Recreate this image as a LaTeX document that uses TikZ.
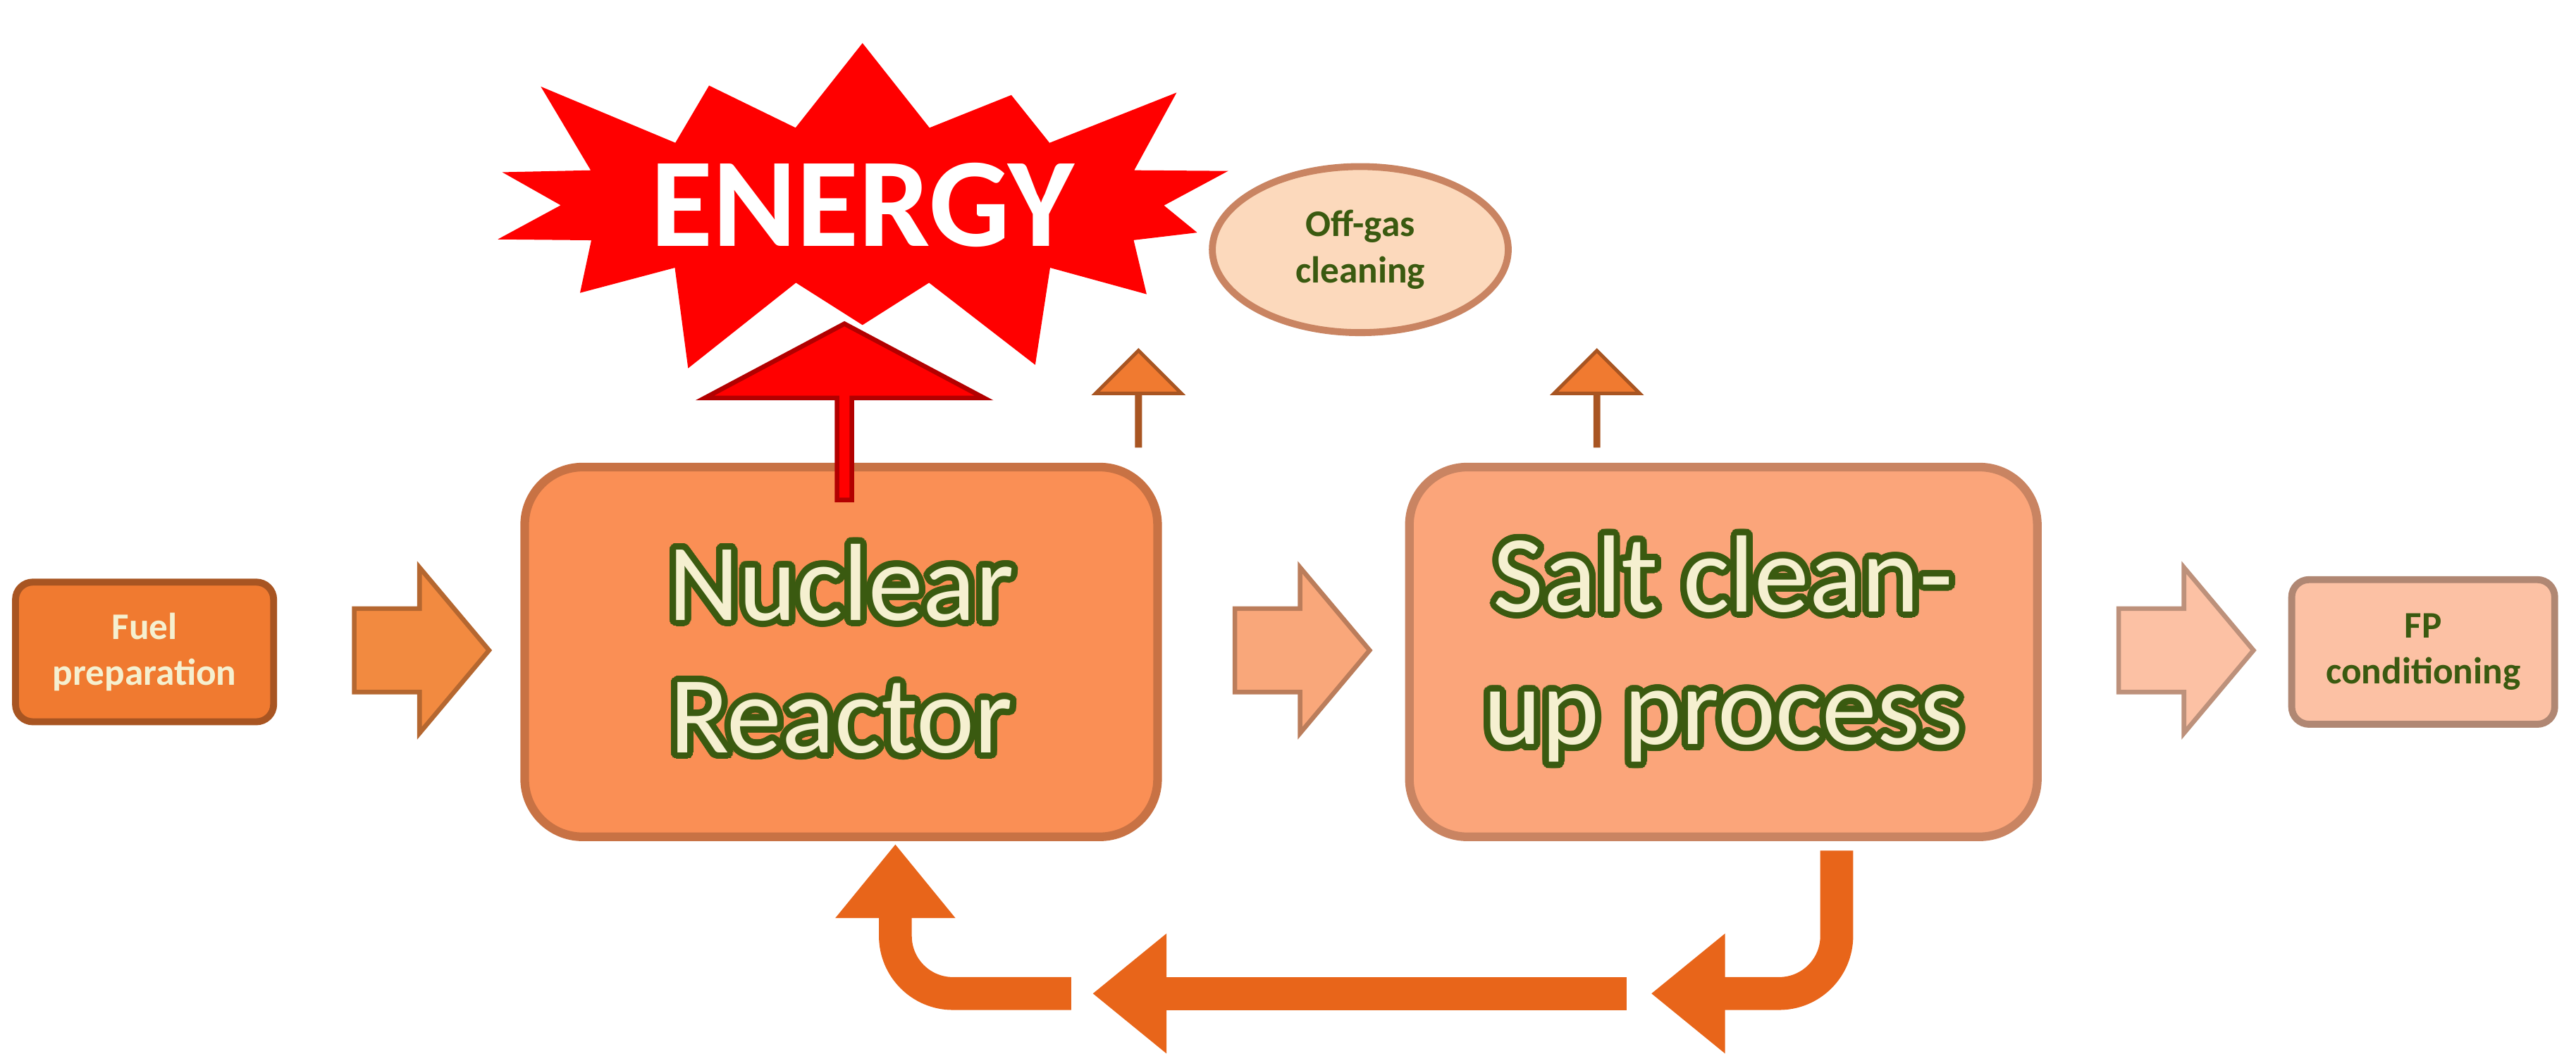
\documentclass[tikz,border=0pt]{standalone}
\usepackage{fontspec}
\setmainfont{Carlito}
\usepackage{contour}
\contourlength{1.1pt}
\contournumber{32}
\usetikzlibrary{shapes.symbols,shapes.arrows,shapes.geometric,arrows.meta}
\definecolor{dg}{HTML}{3A5A10}
\definecolor{cream}{HTML}{F5F0D0}
\definecolor{loop}{HTML}{E8651A}
\tikzset{
 box/.style={draw=#1!70!black, line width=1.2pt, rounded corners=3pt, inner sep=0pt},
 big/.style={draw=#1!80!black, line width=1.5pt, rounded corners=10pt, fill=#1},
 blk/.style={single arrow, draw=#1!75!black, fill=#1, line width=0.8pt, minimum height=0.82cm, minimum width=0.92cm, single arrow tip angle=100, inner xsep=0pt, inner ysep=0.24cm},
 sm/.style={single arrow, fill=c1, draw=c1!70!black, line width=0.6pt, minimum height=0.58cm, minimum width=0.44cm, single arrow tip angle=90, inner xsep=0pt, inner ysep=0.1cm},
 lp/.style={draw=loop, line width=0.2cm, -{Triangle[width=0.7cm,length=0.45cm]}},
}
\newcommand{\ctxt}[1]{\contour{dg}{\textcolor{cream}{#1}}}
\begin{document}
\begin{tikzpicture}[x=0.01cm,y=-0.01cm]
\useasboundingbox (0,0) rectangle (1568,646);
\definecolor{c1}{HTML}{F07A30}
\definecolor{c2}{HTML}{F28A40}
\definecolor{c3}{HTML}{FA8F55}
\definecolor{c4}{HTML}{F9A77A}
\definecolor{c5}{HTML}{FBA57A}
\definecolor{c6}{HTML}{FCC1A4}
\definecolor{c7}{HTML}{FCD9BC}
% boxes
\node (fuel) [box=c1, fill=c1, minimum width=1.57cm, minimum height=0.85cm, text=cream, align=center, font=\bfseries\fontsize{6.5pt}{8pt}\selectfont] at (88,397) {Fuel\\preparation};
\node (a1) [blk=c2] at (246,396) {};
\node (nr) [big=c3, minimum width=3.85cm, minimum height=2.25cm, align=center, font=\fontsize{19pt}{23pt}\selectfont] at (512,397) {\ctxt{Nuclear}\\\ctxt{Reactor}};
\node (a2) [blk=c4] at (782,396) {};
\node (sc) [big=c5, minimum width=3.82cm, minimum height=2.25cm, align=center, font=\fontsize{19pt}{23pt}\selectfont] at (1049,397) {\ctxt{Salt clean-}\\\ctxt{up process}};
\node (a3) [blk=c6] at (1320,396) {};
\node (fp) [box=c6, fill=c6, minimum width=1.6cm, minimum height=0.88cm, text=dg, align=center, font=\bfseries\fontsize{6.5pt}{8pt}\selectfont] at (1475,397) {FP\\conditioning};
% energy
\node (en) [starburst, starburst points=14, starburst point height=0.7cm, fill=red, draw=red, minimum width=4.7cm, minimum height=2.35cm, text=white, font=\bfseries\fontsize{22pt}{26pt}\selectfont, inner sep=0pt] at (525,125) {ENERGY};
\node (ea) [single arrow, shape border rotate=90, fill=red, draw=red!70!black, line width=0.8pt, minimum height=0.95cm, minimum width=1.7cm, single arrow tip angle=124, inner xsep=0pt, inner ysep=0.51cm] at (514,252) {};
\node (og) [ellipse, draw=c5!80!black, line width=1.2pt, fill=c7, minimum width=1.8cm, minimum height=0.9cm, text=dg, align=center, font=\bfseries\fontsize{6.5pt}{8pt}\selectfont] at (828,152) {Off-gas\\cleaning};
\node (s1) [sm, shape border rotate=50] at (693,243) {};
\node (s2) [sm, shape border rotate=130] at (972,243) {};
% loop
\coordinate (l1) at (1118,518);
\coordinate (l2) at (1005,605);
\coordinate (l3) at (990,605);
\coordinate (l4) at (665,605);
\coordinate (l5) at (652,605);
\coordinate (l6) at (545,514);
\draw[lp, rounded corners=0.35cm] (l1) |- (l2);
\draw[lp] (l3) -- (l4);
\draw[lp, rounded corners=0.35cm] (l5) -| (l6);
\end{tikzpicture}
\end{document}
